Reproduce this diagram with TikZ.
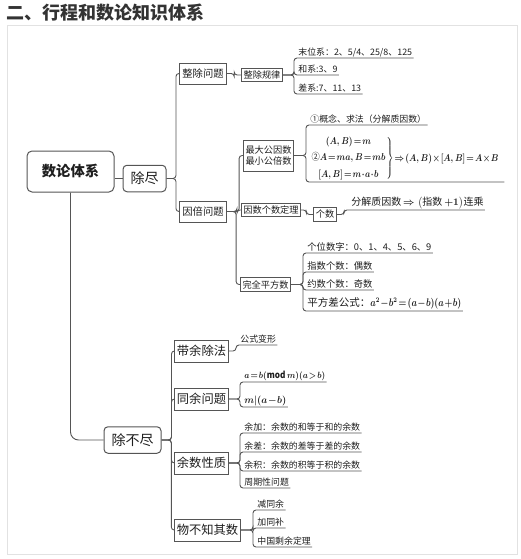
\documentclass[tikz,border=0pt]{standalone}
\usepackage{amsmath,amssymb}
\usepackage{graphicx}
\usepackage{fontspec}
\setmainfont{Noto Sans CJK SC}
\usepackage{tikz}
\usetikzlibrary{positioning,backgrounds}
\pgfdeclarelayer{background}
\pgfsetlayers{background,main}
\usepackage{xcolor}
\definecolor{mapline}{RGB}{85,85,85}
\definecolor{maptext}{RGB}{30,30,30}
\definecolor{framegray}{RGB}{226,226,226}
\definecolor{titlegray}{RGB}{51,51,51}
\newcommand{\narrowmath}[2][0.86]{\scalebox{#1}[1]{\boldmath\thickmuskip=2mu\relax\medmuskip=1mu\relax$#2$}}

\begin{document}
\begin{tikzpicture}[
  x=1pt, y=-1pt,
  every node/.style={text=maptext},
  rootbox/.style={draw=mapline, line width=1pt, rounded corners=5pt,
    font=\fontsize{14.3}{16}\selectfont\bfseries,
    minimum width=87pt, minimum height=41pt},
  mainbox/.style={draw=mapline, line width=1pt, rounded corners=4pt,
    font=\fontsize{14}{16}\selectfont, inner xsep=7.5pt, minimum height=26.5pt},
  topic/.style={draw=mapline, line width=0.9pt, inner xsep=3pt,
    font=\fontsize{10.3}{12}\selectfont, minimum height=21pt},
  bigtopic/.style={draw=mapline, line width=0.9pt, inner xsep=2pt,
    font=\fontsize{12.3}{14}\selectfont, minimum height=22pt},
  subtopic/.style={draw=mapline, line width=0.8pt, inner xsep=2pt, inner ysep=2.5pt,
    font=\fontsize{9.2}{11}\selectfont, align=left},
  leaf/.style={anchor=south west, inner sep=1.2pt,
    font=\fontsize{8.9}{10}\selectfont},
  formula/.style={anchor=south west, inner sep=1.5pt,
    font=\fontsize{9.8}{11}\selectfont},
  conn/.style={draw=mapline, line width=0.9pt, rounded corners=3pt},
]
\useasboundingbox (0,0) rectangle (521,559);
\draw[framegray, line width=1pt] (7,26) rectangle (517,554);
\node[anchor=west, inner sep=0pt, text=titlegray, font=\fontsize{18}{20}\selectfont\bfseries]
  at (6,13) (title) {二、行程和数论知识体系};

\node[rootbox]  at ( 70.5,171.5) (numtheory)    {数论体系};
\node[mainbox]  at (144.5,178.5) (divisible)    {除尽};
\node[mainbox]  at (132.5,440)   (nondivisible) {除不尽};

\node[topic]    at (203, 73.5)   (zhengchu)     {整除问题};
\node[topic]    at (203,211.5)   (yinbei)       {因倍问题};

\node[subtopic] at (262, 75)     (zcrule)       {整除规律};
\node[leaf]     at (297, 58)     (mowei)        {末位系：2、5/4、25/8、125};
\node[leaf]     at (297, 75)     (hexi)         {和系:3、9};
\node[leaf]     at (297, 94)     (chaxi)        {差系:7、11、13};

\node[subtopic, minimum height=31pt] at (268.5,155.5) (gcd) {最大公因数\\最小公倍数};
\node[leaf]     at (309,125)     (gainian)      {①概念、求法（分解质因数）};
\node[formula]  at (308,182)     (gcdformula)
  {\narrowmath[0.84]{\arraycolsep=1pt\left.\begin{array}{c}(A,B)=m\\[5pt] \text{②}A=ma,B=mb\\[5pt] [A,B]=m\cdot a\cdot b\end{array}\right\}\Rightarrow(A,B)\times[A,B]=A\times B}};

\node[subtopic] at (271,210)     (yinshu)       {因数个数定理};
\node[subtopic] at (325,214.5)   (geshu)        {个数};
\node[leaf, font=\fontsize{10}{12}\selectfont] at (350,210) (fenjie)
  {分解质因数\,{\boldmath$\Rightarrow\bigl($}指数{\boldmath$\,+1\bigr)$}连乘};

\node[subtopic] at (265.5,284.5) (wanquan)      {完全平方数};
\node[leaf, font=\fontsize{9.3}{11}\selectfont] at (306,253) (gewei)  {个位数字：0、1、4、5、6、9};
\node[leaf, font=\fontsize{9.3}{11}\selectfont] at (306,272) (zhishu) {指数个数：偶数};
\node[leaf, font=\fontsize{9.3}{11}\selectfont] at (306,290) (yueshu) {约数个数：奇数};
\node[leaf, font=\fontsize{10.5}{12}\selectfont] at (306,311) (pfcha)
  {平方差公式：\narrowmath[0.8]{a^2-b^2=(a-b)(a+b)}};

\node[bigtopic] at (201.5,351)   (daiyu)        {带余除法};
\node[leaf]     at (239,345)     (gongshi)      {公式变形};

\node[bigtopic] at (201.5,399)   (tongyu)       {同余问题};
\node[leaf, font=\fontsize{9.3}{11}\selectfont] at (243,382) (modrel) {\narrowmath[0.88]{a=b(\mathrm{mod}\,m)(a>b)}};
\node[leaf, font=\fontsize{10}{12}\selectfont] at (243,407) (divrel) {\narrowmath[0.95]{m|(a-b)}};

\node[bigtopic] at (201.5,463)   (yushu)        {余数性质};
\node[leaf]     at (243,433)     (yujia)        {余加：余数的和等于和的余数};
\node[leaf]     at (243,452)     (yucha)        {余差：余数的差等于差的余数};
\node[leaf]     at (243,471)     (yuji)         {余积：余数的积等于积的余数};
\node[leaf]     at (243,488)     (zhouqi)       {周期性问题};

\node[bigtopic] at (207.5,530)   (wubuzhi)      {物不知其数};
\node[leaf]     at (256,510)     (jiantong)     {减同余};
\node[leaf]     at (256,528)     (jiatong)      {加同补};
\node[leaf]     at (256,547)     (zhongguo)     {中国剩余定理};

\begin{pgfonlayer}{background}
\draw[conn] (divisible.west) -- (divisible.west -| numtheory.east);
\draw[conn, rounded corners=8pt] (numtheory.south) |- (nondivisible.west);

\draw[conn] (divisible.east) -| ([xshift=-3pt]zhengchu.west) -- (zhengchu.west);
\draw[conn] (divisible.east) -| ([xshift=-3pt]yinbei.west) -- (yinbei.west);

\draw[conn] (zhengchu.east) -| ([xshift=-7pt]zcrule.west) -- (zcrule.west);
\draw[conn] (zcrule.east) -| ([xshift=-3pt]mowei.south west) -- (mowei.south east);
\draw[conn] (zcrule.east) -| ([xshift=-3pt]hexi.south west) -- (hexi.south east);
\draw[conn] (zcrule.east) -| ([xshift=-3pt]chaxi.south west) -- (chaxi.south east);

\draw[conn] (yinbei.east) -| ([xshift=-4pt]gcd.west) -- (gcd.west);
\draw[conn] (yinbei.east) -| ([xshift=-4pt]yinshu.west) -- (yinshu.west);
\draw[conn] (yinbei.east) -| ([xshift=-4pt]wanquan.west) -- (wanquan.west);

\draw[conn] (gcd.east) -| ([xshift=-3pt]gainian.south west) -- (gainian.south east);
\draw[conn] (gcd.east) -| ([xshift=-2pt]gcdformula.south west) -- ([xshift=4pt]gcdformula.south east);

\draw[conn] (yinshu.east) -| ([xshift=-7pt]geshu.west) -- (geshu.west);
\draw[conn] (geshu.east) -| ([xshift=-6pt]fenjie.south west) -- (fenjie.south east);

\draw[conn] (wanquan.east) -| ([xshift=-3pt]gewei.south west) -- (gewei.south east);
\draw[conn] (wanquan.east) -| ([xshift=-3pt]zhishu.south west) -- (zhishu.south east);
\draw[conn] (wanquan.east) -| ([xshift=-3pt]yueshu.south west) -- (yueshu.south east);
\draw[conn] (wanquan.east) -| ([xshift=-3pt]pfcha.south west) -- (pfcha.south east);

\draw[conn] (nondivisible.east) -| ([xshift=-3pt]daiyu.west) -- (daiyu.west);
\draw[conn] (nondivisible.east) -| ([xshift=-3pt]tongyu.west) -- (tongyu.west);
\draw[conn] (nondivisible.east) -| ([xshift=-3pt]yushu.west) -- (yushu.west);
\draw[conn] (nondivisible.east) -| ([xshift=-3pt]wubuzhi.west) -- (wubuzhi.west);

\draw[conn] (daiyu.east) -| ([xshift=-3pt]gongshi.south west) -- (gongshi.south east);
\draw[conn] (tongyu.east) -| ([xshift=-3pt]modrel.south west) -- (modrel.south east);
\draw[conn] (tongyu.east) -| ([xshift=-3pt]divrel.south west) -- (divrel.south east);

\draw[conn] (yushu.east) -| ([xshift=-3pt]yujia.south west) -- (yujia.south east);
\draw[conn] (yushu.east) -| ([xshift=-3pt]yucha.south west) -- (yucha.south east);
\draw[conn] (yushu.east) -| ([xshift=-3pt]yuji.south west) -- (yuji.south east);
\draw[conn] (yushu.east) -| ([xshift=-3pt]zhouqi.south west) -- (zhouqi.south east);

\draw[conn] (wubuzhi.east) -| ([xshift=-3pt]jiantong.south west) -- (jiantong.south east);
\draw[conn] (wubuzhi.east) -| ([xshift=-3pt]jiatong.south west) -- (jiatong.south east);
\draw[conn] (wubuzhi.east) -| ([xshift=-3pt]zhongguo.south west) -- (zhongguo.south east);
\end{pgfonlayer}
\end{tikzpicture}
\end{document}
